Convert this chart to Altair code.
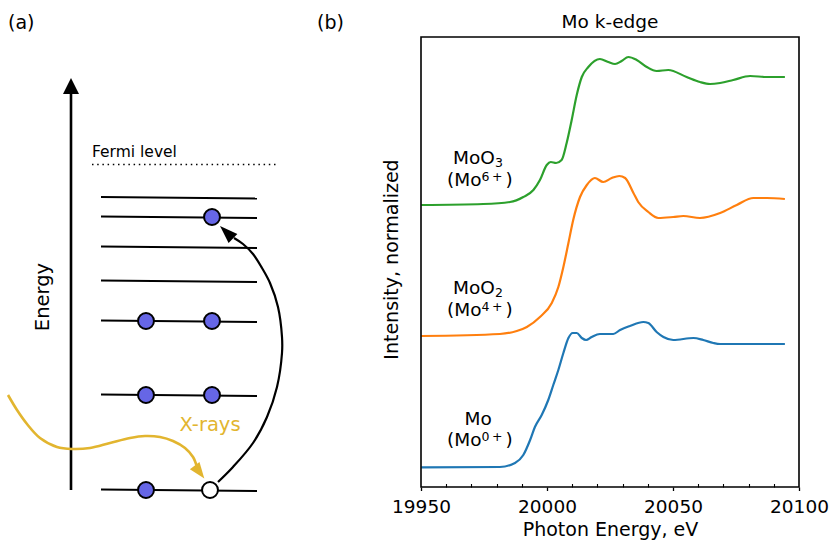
import altair as alt
import pandas as pd

FONT = "DejaVu Sans"

# ---------------- panel (b): Mo K-edge spectra ----------------
energy_mo = [19950.1, 19981.3, 19987.3, 19990.6, 19993.3, 19995.2, 19997.9, 20000.5, 20002.5,
             20004.5, 20006.5, 20008.5, 20010.2, 20011.8, 20013.8, 20015.5, 20017.7, 20021.0,
             20026.3, 20029.0, 20032.9, 20038.2, 20040.2, 20043.5, 20046.2, 20050.1, 20058.1,
             20062.0, 20066.0, 20068.7, 20094.4]
mu_mo = [0.197, 0.20, 0.24, 0.32, 0.47, 0.60, 0.72, 0.87, 1.02,
         1.17, 1.34, 1.49, 1.54, 1.54, 1.49, 1.47, 1.50, 1.53,
         1.53, 1.57, 1.61, 1.65, 1.64, 1.55, 1.50, 1.47, 1.49,
         1.47, 1.44, 1.43, 1.43]

energy_moo2 = [19950.1, 19981.3, 19988.0, 19992.0, 19997.2, 20001.9, 20004.5, 20006.5, 20008.5,
               20010.4, 20013.1, 20015.8, 20019.0, 20022.3, 20025.7, 20028.7, 20031.0, 20034.3,
               20036.2, 20040.2, 20044.2, 20050.1, 20054.1, 20060.7, 20068.7, 20075.3, 20081.9,
               20087.2, 20094.4]
mu_moo2 = [1.51, 1.53, 1.56, 1.60, 1.70, 1.84, 2.00, 2.20, 2.44,
           2.67, 2.90, 3.02, 3.09, 3.05, 3.09, 3.11, 3.09, 2.94,
           2.85, 2.75, 2.69, 2.70, 2.71, 2.69, 2.74, 2.82, 2.89,
           2.89, 2.88]

energy_moo3 = [19950.1, 19974.7, 19985.3, 19990.6, 19994.6, 19997.2, 19999.9, 20001.5, 20003.6,
               20005.8, 20007.8, 20009.8, 20011.8, 20013.8, 20016.4, 20021.0, 20024.3, 20027.0,
               20029.6, 20032.3, 20035.6, 20039.6, 20043.5, 20048.1, 20055.4, 20060.7, 20064.7,
               20068.7, 20073.9, 20080.6, 20087.2, 20094.4]
mu_moo3 = [2.82, 2.83, 2.85, 2.90, 2.97, 3.07, 3.22, 3.25, 3.24,
           3.27, 3.44, 3.67, 3.92, 4.10, 4.20, 4.28, 4.25, 4.23,
           4.26, 4.30, 4.27, 4.20, 4.16, 4.17, 4.10, 4.05, 4.03,
           4.04, 4.07, 4.11, 4.10, 4.10]

series_names = ["Mo", "MoO2", "MoO3"]
series_colors = ["#1f77b4", "#ff7f0e", "#2ca02c"]

x_major_ticks = [19950, 20000, 20050, 20100]
x_minor_ticks = [19960, 19970, 19980, 19990, 20010, 20020, 20030, 20040,
                 20060, 20070, 20080, 20090]

# series labels: normal-size pieces and sub/superscript pieces (left-aligned)
label_main_text = ["MoO", "(Mo", ")", "MoO", "(Mo", ")", "Mo", "(Mo", ")"]
label_main_energy = [19962.7, 19960.3, 19983.5, 19962.7, 19960.3, 19983.5, 19967.3, 19960.3, 19983.5]
label_main_level = [3.23, 3.01, 3.01, 1.93, 1.71, 1.71, 0.62, 0.41, 0.41]
label_script_text = ["3", "6\u2009+", "2", "4\u2009+", "0\u2009+"]
label_script_energy = [19979.4, 19974.0, 19979.4, 19974.0, 19974.0]
label_script_level = [3.205, 3.06, 1.905, 1.76, 0.46]

# ---------------- panel (a): schematic (pixel coordinates) ----------------
level_y_left = [197, 216.5, 246.5, 280.5, 320.5, 394.5, 489.5]
level_y_right = [198.5, 218, 248, 282, 322, 396, 491]
level_x_left = 101
level_x_right = 257

electron_x = [212, 146, 212, 146, 212, 146, 210]
electron_y = [217, 321, 321, 395, 395, 490, 490]
electron_fill = ["#6666e6", "#6666e6", "#6666e6", "#6666e6", "#6666e6", "#6666e6", "#ffffff"]

excite_x = [218, 233, 253, 267, 277, 282, 282, 278, 270, 262, 253, 243, 234]
excite_y = [482, 467, 443, 417, 387, 353, 337, 307, 283, 268, 254, 244, 238]

xray_x = [8, 17, 27, 40, 57, 72, 90, 110, 130, 145, 160, 173, 185, 193, 197]
xray_y = [395, 410, 424, 438, 447, 449, 448, 443, 438, 436, 437, 441, 448, 457, 467]

XRAY_COLOR = "#e2b52f"

PX = alt.Scale(domain=[0, 830], range=[0, 830], nice=False, zero=False)
PY = alt.Scale(domain=[0, 540], range=[0, 540], nice=False, zero=False)
EX = alt.Scale(domain=[19950, 20100], range=[421, 799], nice=False, zero=False)
EY = alt.Scale(domain=[0, 4.5], range=[487, 37], nice=False, zero=False)


def pxx(f):
    return alt.X(f, type="quantitative", scale=PX, axis=None)


def pxy(f):
    return alt.Y(f, type="quantitative", scale=PY, axis=None)


def text_layer(txt, x, y, size, align="left", angle=0, color="black"):
    df = pd.DataFrame({"x": [x], "y": [y], "t": [txt]})
    return alt.Chart(df).mark_text(
        font=FONT, fontSize=size, align=align, baseline="alphabetic",
        angle=angle, color=color
    ).encode(x=pxx("x"), y=pxy("y"), text="t:N")


def arrowhead(x, y, angle, size, color, path):
    df = pd.DataFrame({"x": [x], "y": [y]})
    return alt.Chart(df).mark_point(
        shape=path, filled=True, color=color, size=size, angle=angle,
        opacity=1, strokeWidth=0
    ).encode(x=pxx("x"), y=pxy("y"))


layers = []

# energy levels
lev = pd.DataFrame({"x0": [level_x_left] * 7, "x1": [level_x_right] * 7,
                    "y0": level_y_left, "y1": level_y_right})
layers.append(alt.Chart(lev).mark_rule(color="black", strokeWidth=2).encode(
    x=pxx("x0"), x2="x1", y=pxy("y0"), y2="y1"))

# Fermi level dotted line
fermi = pd.DataFrame({"x0": [92], "x1": [276], "y0": [164.5], "y1": [164.5]})
layers.append(alt.Chart(fermi).mark_rule(color="black", strokeWidth=1.5,
                                         strokeDash=[1.5, 3.7]).encode(
    x=pxx("x0"), x2="x1", y=pxy("y0"), y2="y1"))

# energy axis
eax = pd.DataFrame({"x0": [71], "x1": [71], "y0": [490], "y1": [92]})
layers.append(alt.Chart(eax).mark_rule(color="black", strokeWidth=2.6).encode(
    x=pxx("x0"), x2="x1", y=pxy("y0"), y2="y1"))
layers.append(arrowhead(71, 86, 0, 256, "black", "M0,-1L1,1L-1,1Z"))

# excitation arrow (black)
exc = pd.DataFrame({"x": excite_x, "y": excite_y, "i": list(range(len(excite_x)))})
layers.append(alt.Chart(exc).mark_line(color="black", strokeWidth=2.2,
                                       interpolate="catmull-rom").encode(
    x=pxx("x"), y=pxy("y"), order="i:Q"))
layers.append(arrowhead(226.5, 232.2, 314, 324, "black", "M0,-1L0.7,1L-0.7,1Z"))

# X-ray arrow (yellow)
xr = pd.DataFrame({"x": xray_x, "y": xray_y, "i": list(range(len(xray_x)))})
layers.append(alt.Chart(xr).mark_line(color=XRAY_COLOR, strokeWidth=2.6,
                                      interpolate="catmull-rom").encode(
    x=pxx("x"), y=pxy("y"), order="i:Q"))
layers.append(arrowhead(199.5, 472, 143, 256, XRAY_COLOR, "M0,-1L0.75,1L-0.75,1Z"))

# electrons
el = pd.DataFrame({"x": electron_x, "y": electron_y, "f": electron_fill})
layers.append(alt.Chart(el).mark_circle(size=254, stroke="black", strokeWidth=2,
                                        opacity=1).encode(
    x=pxx("x"), y=pxy("y"), fill=alt.Fill("f:N", scale=None)))

# texts
layers.append(text_layer("(a)", 8, 29, 19))
layers.append(text_layer("(b)", 317, 29, 19))
layers.append(text_layer("Mo k-edge", 610, 27.5, 18.5, align="center"))
layers.append(text_layer("Fermi level", 92, 157, 15.5))
layers.append(text_layer("Energy", 49, 297, 19.5, align="center", angle=270))
layers.append(text_layer("X-rays", 210, 431, 19.5, align="center", color=XRAY_COLOR))

# ---------------- panel (b) layers ----------------
curves = pd.concat([
    pd.DataFrame({"energy": energy_mo, "mu": mu_mo, "series": "Mo"}),
    pd.DataFrame({"energy": energy_moo2, "mu": mu_moo2, "series": "MoO2"}),
    pd.DataFrame({"energy": energy_moo3, "mu": mu_moo3, "series": "MoO3"}),
], ignore_index=True)

x_axis = alt.Axis(
    orient="bottom", values=x_major_ticks, format="d", offset=-53,
    domain=False, grid=False, ticks=True, tickSize=3.5, tickWidth=1.3, tickColor="black",
    labelFont=FONT, labelFontSize=18.5, labelColor="black", labelBaseline="alphabetic",
    labelPadding=21.5, labelFlush=False, labelOverlap=False,
    title="Photon Energy, eV", titleFont=FONT, titleFontSize=19, titleFontWeight="normal",
    titleColor="black", titleBaseline="alphabetic", titleY=48.5,
)
y_axis = alt.Axis(
    orient="left", ticks=False, labels=False, domain=False, grid=False,
    title="Intensity, normalized", titleFont=FONT, titleFontSize=19,
    titleFontWeight="normal", titleColor="black", titleAngle=270,
    titleBaseline="alphabetic", titleAlign="center", titleX=397, titleY=259,
)

layers.append(alt.Chart(curves).mark_line(strokeWidth=2.2, interpolate="monotone").encode(
    x=alt.X("energy:Q", scale=EX, axis=x_axis),
    y=alt.Y("mu:Q", scale=EY, axis=y_axis),
    color=alt.Color("series:N", scale=alt.Scale(domain=series_names, range=series_colors),
                    legend=None),
))

lab_main = pd.DataFrame({"e": label_main_energy, "m": label_main_level, "t": label_main_text})
layers.append(alt.Chart(lab_main).mark_text(font=FONT, fontSize=18.5, align="left",
                                            baseline="alphabetic", color="black").encode(
    x=alt.X("e:Q", scale=EX, axis=None),
    y=alt.Y("m:Q", scale=EY, axis=None),
    text="t:N",
))
lab_script = pd.DataFrame({"e": label_script_energy, "m": label_script_level,
                           "t": label_script_text})
layers.append(alt.Chart(lab_script).mark_text(font=FONT, fontSize=12.5, align="left",
                                              baseline="alphabetic", color="black").encode(
    x=alt.X("e:Q", scale=EX, axis=None),
    y=alt.Y("m:Q", scale=EY, axis=None),
    text="t:N",
))

frame = pd.DataFrame({"e0": [19950], "e1": [20100], "m0": [0.0], "m1": [4.5]})
minor_axis = alt.Axis(
    orient="bottom", values=x_minor_ticks, offset=-56.5, labels=False, domain=False,
    grid=False, ticks=True, tickSize=3.5, tickWidth=1.1, tickColor="black", title=None,
)
layers.append(alt.Chart(frame).mark_rect(fill="white", fillOpacity=0, stroke="black",
                                         strokeWidth=1.6).encode(
    x=alt.X("e0:Q", scale=EX, axis=minor_axis), x2="e1",
    y=alt.Y("m0:Q", scale=EY, axis=None), y2="m1",
))

chart = alt.layer(*layers).resolve_scale(
    x="independent", y="independent"
).properties(
    width=830, height=540, padding=0, background="white",
    autosize=alt.AutoSizeParams(type="none"),
).configure_view(strokeWidth=0)

chart.save("out.html", embed_options={"renderer": "svg", "actions": False})
